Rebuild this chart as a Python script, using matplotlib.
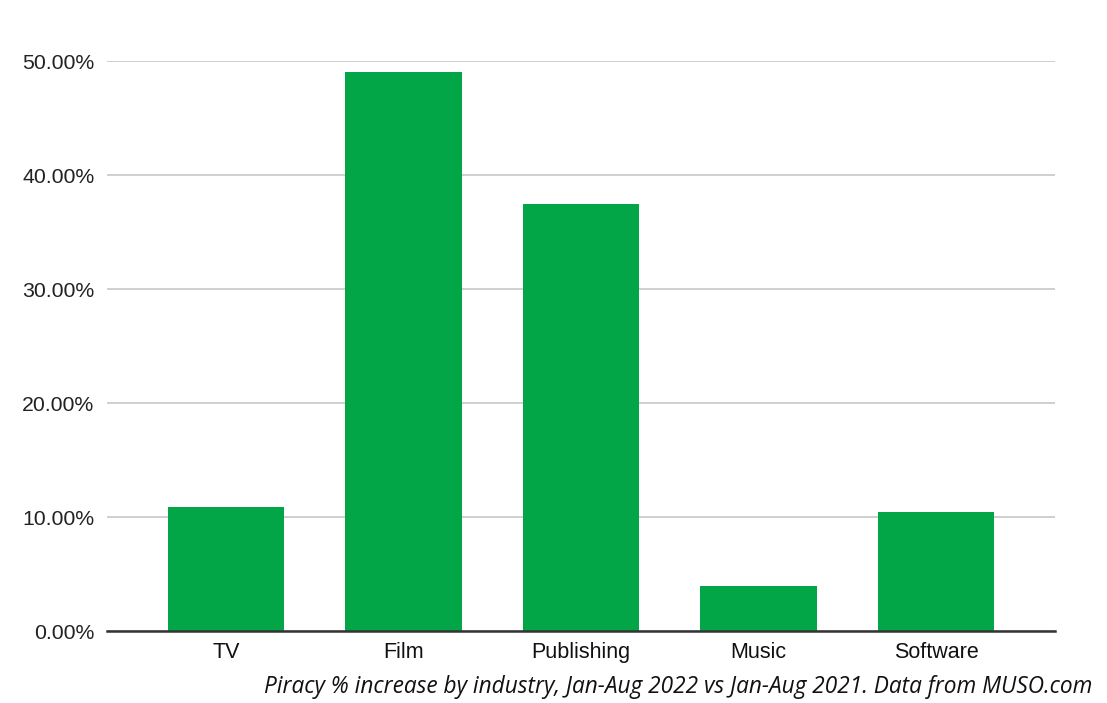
import matplotlib.pyplot as plt
from matplotlib.ticker import FuncFormatter

# Data
industries = ["TV", "Film", "Publishing", "Music", "Software"]
increase_pct = [10.85, 49.05, 37.5, 3.95, 10.4]
y_ticks = [0, 10, 20, 30, 40, 50]

plt.rcParams['font.family'] = ['Liberation Sans', 'DejaVu Sans']

fig = plt.figure(figsize=(11.07, 7.03), dpi=100)
ax = fig.add_axes([0.0967, 0.1024, 0.8563, 0.8108])

x = range(len(industries))
ax.bar(x, increase_pct, width=0.655, color="#02a646", zorder=3)

ax.set_xlim(-0.67, len(industries) - 0.33)
ax.set_ylim(0, 50)
ax.set_yticks(y_ticks)
ax.yaxis.set_major_formatter(FuncFormatter(lambda v, p: f"{v:.2f}%"))
ax.set_xticks(list(x))
ax.set_xticklabels(industries)

ax.grid(axis="y", color="#cccccc", linewidth=1.3, zorder=0)
for s in ["top", "right", "left"]:
    ax.spines[s].set_visible(False)
ax.spines["bottom"].set_color("#333333")
ax.spines["bottom"].set_linewidth(1.8)
ax.spines["bottom"].set_zorder(4)

ax.tick_params(axis="y", length=0, pad=9, labelsize=15.3, labelcolor="#222222")
ax.tick_params(axis="x", length=0, pad=8, labelsize=15.5, labelcolor="#111111")

fig.text(0.987, 0.006,
         "Piracy % increase by industry, Jan-Aug 2022 vs Jan-Aug 2021. Data from MUSO.com",
         ha="right", va="bottom", fontsize=16.3, style="italic",
         family=["Open Sans", "DejaVu Sans"], color="#111111")

fig.savefig("out.png", dpi=100)
